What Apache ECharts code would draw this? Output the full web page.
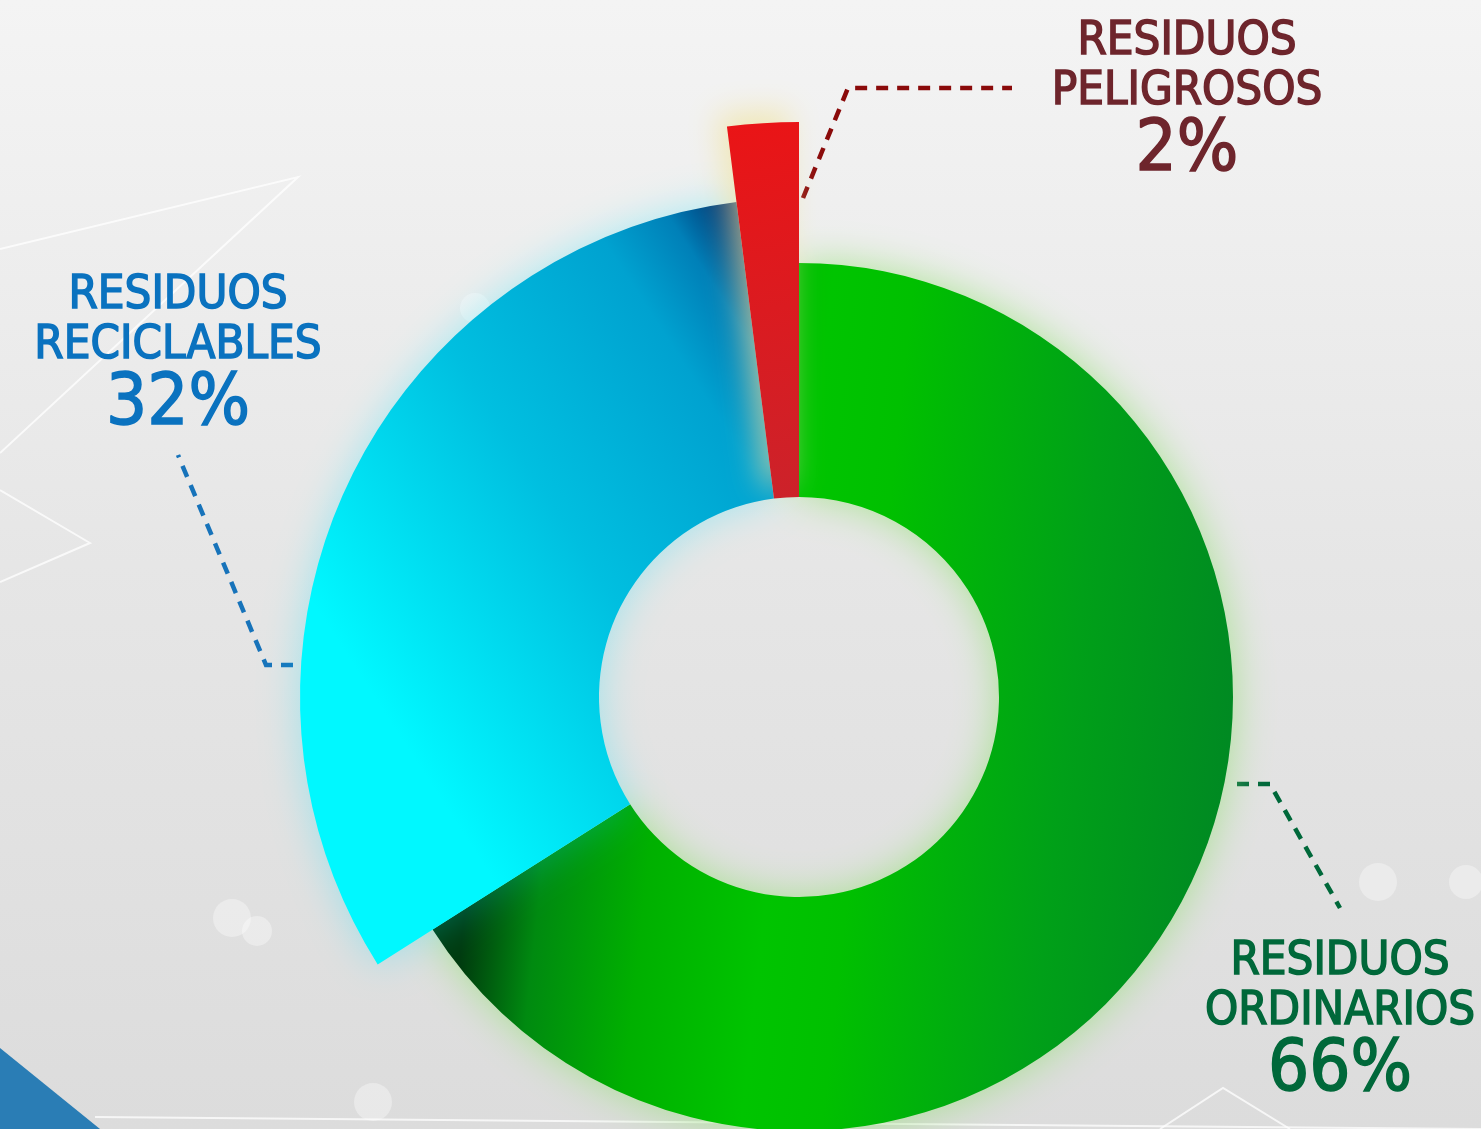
<!DOCTYPE html>
<html>
<head>
<meta charset="utf-8">
<script src="https://cdn.jsdelivr.net/npm/echarts@6/dist/echarts.min.js"></script>
<style>
  html, body { margin: 0; padding: 0; }
  #chart { width: 1481px; height: 1129px; }
</style>
</head>
<body>
<div id="chart"></div>
<script>
// data
const categories = ['RESIDUOS ORDINARIOS', 'RESIDUOS RECICLABLES', 'RESIDUOS PELIGROSOS']
const values = [66, 32, 2]
const outerRadius = [434, 499, 575]
const labelColors = ['#00683a', '#0a72bf', '#6e252c']
const lineColors = ['#00683a', '#1773ba', '#8a0a0a']
const zOrder = [2, 3, 4]

const fills = [
  { type: 'linear', x: 0, y: 0.4, x2: 1, y2: 0.5, colorStops: [
    { offset: 0.08, color: '#003a0e' }, { offset: 0.17, color: '#008a10' },
    { offset: 0.3, color: '#00b000' }, { offset: 0.45, color: '#00c400' },
    { offset: 0.55, color: '#00c000' }, { offset: 0.8, color: '#00a018' },
    { offset: 1, color: '#008a22' }] },
  { type: 'linear', x: 0, y: 0.5, x2: 1, y2: 0.095, colorStops: [
    { offset: 0, color: '#00f8ff' }, { offset: 0.45, color: '#00bfe0' },
    { offset: 0.78, color: '#00a2d0' }, { offset: 0.9, color: '#0080b8' },
    { offset: 1, color: '#00306e' }] },
  { type: 'linear', x: 0, y: 0, x2: 1, y2: 1, colorStops: [
    { offset: 0, color: '#ea1416' }, { offset: 1, color: '#cc222a' }] }
]
const glows = [
  { shadowBlur: 40, shadowColor: 'rgba(150,225,120,0.75)' },
  { shadowBlur: 40, shadowColor: 'rgba(0,225,255,0.3)' },
  { shadowBlur: 30, shadowColor: 'rgba(240,228,160,0.7)', shadowOffsetX: -10, shadowOffsetY: -12 }
]

// label anchor: [centerX, middleY], leader line points
const labelPos = [[1340, 1021], [178, 355], [1187, 101]]
const leaders = [
  [[1237, 784], [1270, 784], [1340, 908]],
  [[293, 665], [266, 665], [178, 455]],
  [[803, 198], [848, 88], [1012, 88]]
]

const chart = echarts.init(document.getElementById('chart'))

const font = 'DejaVu Sans Condensed, sans-serif'
const series = categories.map((name, i) => ({
  type: 'pie',
  center: [799, 697],
  radius: [200, outerRadius[i]],
  startAngle: 90,
  avoidLabelOverlap: false,
  silent: true,
  z: zOrder[i],
  data: categories.map((n, j) => j === i ? {
    name: n,
    value: values[j],
    itemStyle: Object.assign({ color: fills[i] }, glows[i]),
    label: {
      show: true,
      position: 'outside',
      formatter: p => p.name.split(' ').map(s => '{n|' + s + '}').join('\n') + '\n{p|' + p.value + '%}',
      rich: {
        n: { fontFamily: font, fontSize: 47, lineHeight: 50, color: labelColors[i], align: 'center',
          textBorderColor: labelColors[i], textBorderWidth: 1.5 },
        p: { fontFamily: font, fontSize: 72, lineHeight: 68, color: labelColors[i], align: 'center',
          textBorderColor: labelColors[i], textBorderWidth: 1.5 }
      }
    },
    labelLine: {
      show: true,
      lineStyle: { color: lineColors[i], width: 4.5, type: [12, 9] }
    }
  } : {
    name: n,
    value: values[j],
    itemStyle: { color: 'transparent' },
    label: { show: false },
    labelLine: { show: false }
  }),
  labelLayout: params => {
    if (params.dataIndex !== i) return {}
    return {
      x: labelPos[i][0],
      y: labelPos[i][1],
      align: 'center',
      verticalAlign: 'middle',
      labelLinePoints: leaders[i]
    }
  }
}))

const deco = []
const wline = (pts, w) => deco.push({ type: 'polyline', z: 0, shape: { points: pts },
  style: { stroke: 'rgba(255,255,255,0.75)', lineWidth: w || 2, fill: null } })
wline([[0, 249], [298, 177], [0, 453]])
wline([[0, 490], [90, 543], [0, 582]])
wline([[95, 1117], [1481, 1129]])
wline([[1160, 1129], [1223, 1088], [1290, 1129]])
const dot = (x, y, r) => deco.push({ type: 'circle', z: 0, shape: { cx: x, cy: y, r: r },
  style: { fill: 'rgba(255,255,255,0.35)' } })
dot(475, 308, 15); dot(232, 918, 19); dot(257, 931, 15); dot(373, 1102, 19)
dot(1378, 882, 19); dot(1466, 882, 17)
deco.push({ type: 'polygon', z: 0, shape: { points: [[0, 1048], [100, 1129], [0, 1129]] },
  style: { fill: '#2a7db5' } })

chart.setOption({
  backgroundColor: { type: 'linear', x: 0, y: 0, x2: 0, y2: 1, colorStops: [
    { offset: 0, color: '#f4f4f4' }, { offset: 0.5, color: '#e6e6e6' }, { offset: 1, color: '#dcdcdc' }] },
  animation: false,
  graphic: deco,
  series: series
})
</script>
</body>
</html>
